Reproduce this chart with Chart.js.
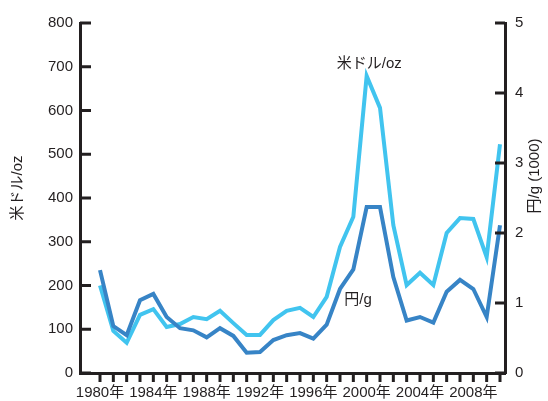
<!DOCTYPE html>
<html lang="ja">
<head>
    <meta charset="UTF-8">
    <title>palladium</title>
    <style type="text/css">
        body { margin: 0; background: #fff; }
        .chartBox { width: 548px; height: 401px; }
    </style>
</head>
<body>
    <div class="chartBox">
        <canvas id="myChart" width="548" height="401"></canvas>
    </div>

    <script src="https://cdn.jsdelivr.net/npm/chart.js"></script>
    <script>
        var years = [1980,1981,1982,1983,1984,1985,1986,1987,1988,1989,1990,1991,1992,1993,1994,1995,
                     1996,1997,1998,1999,2000,2001,2002,2003,2004,2005,2006,2007,2008,2009,2010];
        // 米ドル/oz (left axis)
        var usdPerOz = [200,96,69,133,146,105,112,128,123,142,114,87,87,121,142,149,
                        128,174,288,357,679,606,338,201,229,201,320,354,352,265,523];
        // 円/g, thousands (right axis)
        var yenPerG = [1.47,0.67,0.54,1.04,1.13,0.80,0.64,0.61,0.51,0.64,0.53,0.29,0.30,0.47,0.54,0.57,
                       0.49,0.69,1.20,1.48,2.37,2.37,1.37,0.75,0.80,0.72,1.16,1.33,1.20,0.80,2.11];
        var labelYears = [1980,1984,1988,1992,1996,2000,2004,2008];
        var leftTicks = [0,100,200,300,400,500,600,700,800];
        var rightTicks = [0,1,2,3,4,5];

        var ink = '#231f20';
        var font = "'Liberation Sans', Arial, 'Noto Sans CJK JP', sans-serif";

        var tickMarks = {
            id: 'tickMarks',
            afterDraw: function(chart) {
                var ctx = chart.ctx;
                var x = chart.scales.x, y = chart.scales.y, y1 = chart.scales.y1;
                var area = chart.chartArea;
                ctx.save();
                ctx.strokeStyle = ink;
                ctx.lineWidth = 3;
                ctx.beginPath();
                years.forEach(function(v) {
                    var px = x.getPixelForValue(v);
                    ctx.moveTo(px, area.bottom);
                    ctx.lineTo(px, area.bottom + 9);
                });
                leftTicks.forEach(function(v) {
                    var py = y.getPixelForValue(v);
                    ctx.moveTo(area.left, py);
                    ctx.lineTo(area.left + 11, py);
                });
                rightTicks.forEach(function(v) {
                    var py = y1.getPixelForValue(v);
                    ctx.moveTo(area.right, py);
                    ctx.lineTo(area.right - 10, py);
                });
                ctx.stroke();

                // series labels and axis titles
                ctx.fillStyle = ink;
                ctx.font = '15px ' + font;
                ctx.textAlign = 'center';
                ctx.textBaseline = 'middle';
                ctx.fillText('米ドル/oz', x.getPixelForValue(2000.2), y.getPixelForValue(usdPerOz[20]) - 12);
                ctx.fillText('円/g', x.getPixelForValue(1999.35), y1.getPixelForValue(1.04));

                ctx.translate(18, 188);
                ctx.rotate(-Math.PI / 2);
                ctx.fillText('米ドル/oz', 0, 0);
                ctx.rotate(Math.PI / 2);
                ctx.translate(535 - 18, 176 - 188);
                ctx.rotate(-Math.PI / 2);
                ctx.fillText('円/g (1000)', 0, 0);
                ctx.restore();
            }
        };

        var myChart = new Chart(document.getElementById('myChart').getContext('2d'), {
            type: 'line',
            data: {
                datasets: [{
                    label: '円/g',
                    data: years.map(function(v, i) { return {x: v, y: yenPerG[i]}; }),
                    yAxisID: 'y1',
                    borderWidth: 4,
                    borderColor: '#3784c6',
                    borderJoinStyle: 'miter',
                    pointRadius: 0,
                    tension: 0
                }, {
                    label: '米ドル/oz',
                    data: years.map(function(v, i) { return {x: v, y: usdPerOz[i]}; }),
                    yAxisID: 'y',
                    borderWidth: 4,
                    borderColor: '#41c4ef',
                    borderJoinStyle: 'miter',
                    pointRadius: 0,
                    tension: 0
                }]
            },
            options: {
                responsive: false,
                animation: false,
                layout: { padding: { top: 23, left: 0, right: 0, bottom: 0 } },
                scales: {
                    x: {
                        type: 'linear',
                        min: 1978.5,
                        max: 2010.375,
                        afterBuildTicks: function(s) { s.ticks = years.map(function(v) { return {value: v}; }); },
                        afterFit: function(s) { s.height = 28; },
                        grid: { display: false, drawTicks: false },
                        border: { display: true, color: ink, width: 3 },
                        ticks: {
                            autoSkip: false,
                            maxRotation: 0,
                            padding: 11,
                            color: ink,
                            font: { family: font, size: 15 },
                            callback: function(v) { return labelYears.indexOf(v) >= 0 ? v + '年' : ''; }
                        }
                    },
                    y: {
                        position: 'left',
                        min: 0,
                        max: 800,
                        afterBuildTicks: function(s) { s.ticks = leftTicks.map(function(v) { return {value: v}; }); },
                        afterFit: function(s) { s.width = 80; },
                        grid: { display: false, drawTicks: false },
                        border: { display: true, color: ink, width: 3 },
                        ticks: { padding: 7, color: ink, font: { family: font, size: 15 } }
                    },
                    y1: {
                        position: 'right',
                        min: 0,
                        max: 5,
                        afterBuildTicks: function(s) { s.ticks = rightTicks.map(function(v) { return {value: v}; }); },
                        afterFit: function(s) { s.width = 43; },
                        grid: { display: false, drawTicks: false },
                        border: { display: true, color: ink, width: 3 },
                        ticks: { padding: 10, color: ink, font: { family: font, size: 15 } }
                    }
                },
                plugins: {
                    legend: { display: false },
                    tooltip: { enabled: false }
                }
            },
            plugins: [tickMarks]
        });
    </script>
</body>
</html>
